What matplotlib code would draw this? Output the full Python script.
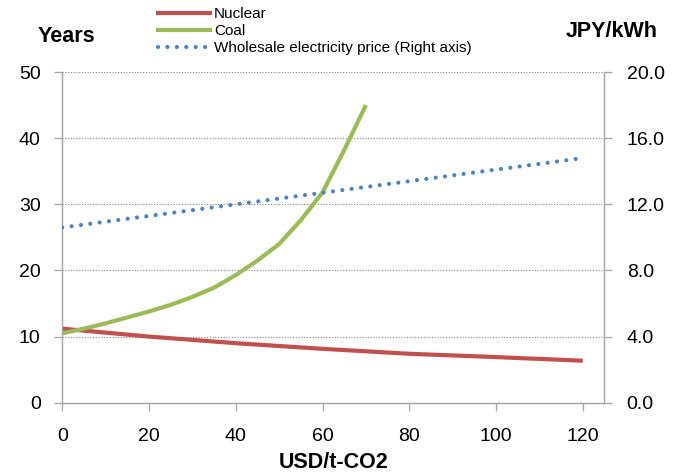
import matplotlib
matplotlib.use("Agg")
import matplotlib.pyplot as plt
from matplotlib.lines import Line2D

plt.rcParams['font.family'] = ['Liberation Sans', 'DejaVu Sans']

# Data
nuc_x = [0, 20, 40, 60, 80, 100, 120]
nuc_y = [11.2, 10.0, 9.0, 8.15, 7.4, 6.9, 6.35]

coal_x = [0, 5, 10, 15, 20, 25, 30, 35, 40, 45, 50, 55, 60, 65, 70]
coal_y = [10.5, 11.2, 12.0, 12.9, 13.8, 14.8, 16.0, 17.4, 19.3, 21.5, 24.0, 27.6, 31.8, 38.2, 45.0]

price_x = [0, 20, 40, 60, 80, 100, 120]
price_y = [10.6, 11.3, 12.0, 12.7, 13.4, 14.1, 14.8]

xticks = [0, 20, 40, 60, 80, 100, 120]
yticks_left = [0, 10, 20, 30, 40, 50]
yticks_right = [0, 4, 8, 12, 16, 20]

c_nuc = '#C0504D'
c_coal = '#9BBB59'
c_price = '#4F81BD'
spine_c = '#A6A6A6'
dots = (0, (0.01, 2.25))

fig = plt.figure(figsize=(6.82, 4.73), dpi=100)
ax = fig.add_axes([0.0913, 0.1486, 0.795, 0.699])
ax2 = ax.twinx()

ax.plot(nuc_x, nuc_y, color=c_nuc, lw=3, solid_capstyle='butt', zorder=3)
ax.plot(coal_x, coal_y, color=c_coal, lw=3, solid_capstyle='butt', zorder=3)
ax2.plot(price_x, price_y, color=c_price, lw=3, linestyle=dots,
         dash_capstyle='round', zorder=3)

ax.set_xlim(0, 125)
ax.set_ylim(0, 50)
ax2.set_ylim(0, 20)
ax.set_xticks(xticks)
ax.set_yticks(yticks_left)
ax2.set_yticks(yticks_right)
ax2.set_yticklabels([f"{v:.1f}" for v in yticks_right])

for y in yticks_left[1:]:
    ax.axhline(y, color='#808080', lw=0.8, linestyle=(0, (1, 1.5)), zorder=1)

for a in (ax, ax2):
    a.spines['top'].set_visible(False)
    for s in ('left', 'right', 'bottom'):
        a.spines[s].set_color(spine_c)
        a.spines[s].set_linewidth(0.9)
    a.tick_params(colors=spine_c, labelcolor='black', labelsize=14, length=6, width=0.9)
ax.tick_params(axis='x', pad=12)
ax.tick_params(axis='y', pad=9.5)
ax2.tick_params(axis='y', pad=10)

ax.set_xlabel('USD/t-CO2', fontsize=15.5, fontweight='bold', labelpad=5)
fig.text(0.098, 0.922, 'Years', fontsize=15.5, fontweight='bold', ha='center', va='center')
fig.text(0.897, 0.933, 'JPY/kWh', fontsize=15.5, fontweight='bold', ha='center', va='center')

handles = [
    Line2D([], [], color=c_nuc, lw=3),
    Line2D([], [], color=c_coal, lw=3),
    Line2D([], [], color=c_price, lw=3, linestyle=dots, dash_capstyle='round'),
]
labels = ['Nuclear', 'Coal', 'Wholesale electricity price (Right axis)']
fig.legend(handles, labels, loc='upper left', bbox_to_anchor=(0.232, 0.985),
           frameon=False, fontsize=11, handlelength=3.4, handletextpad=0.25,
           labelspacing=0.2, borderaxespad=0, borderpad=0)

fig.savefig('out.png', dpi=100)
